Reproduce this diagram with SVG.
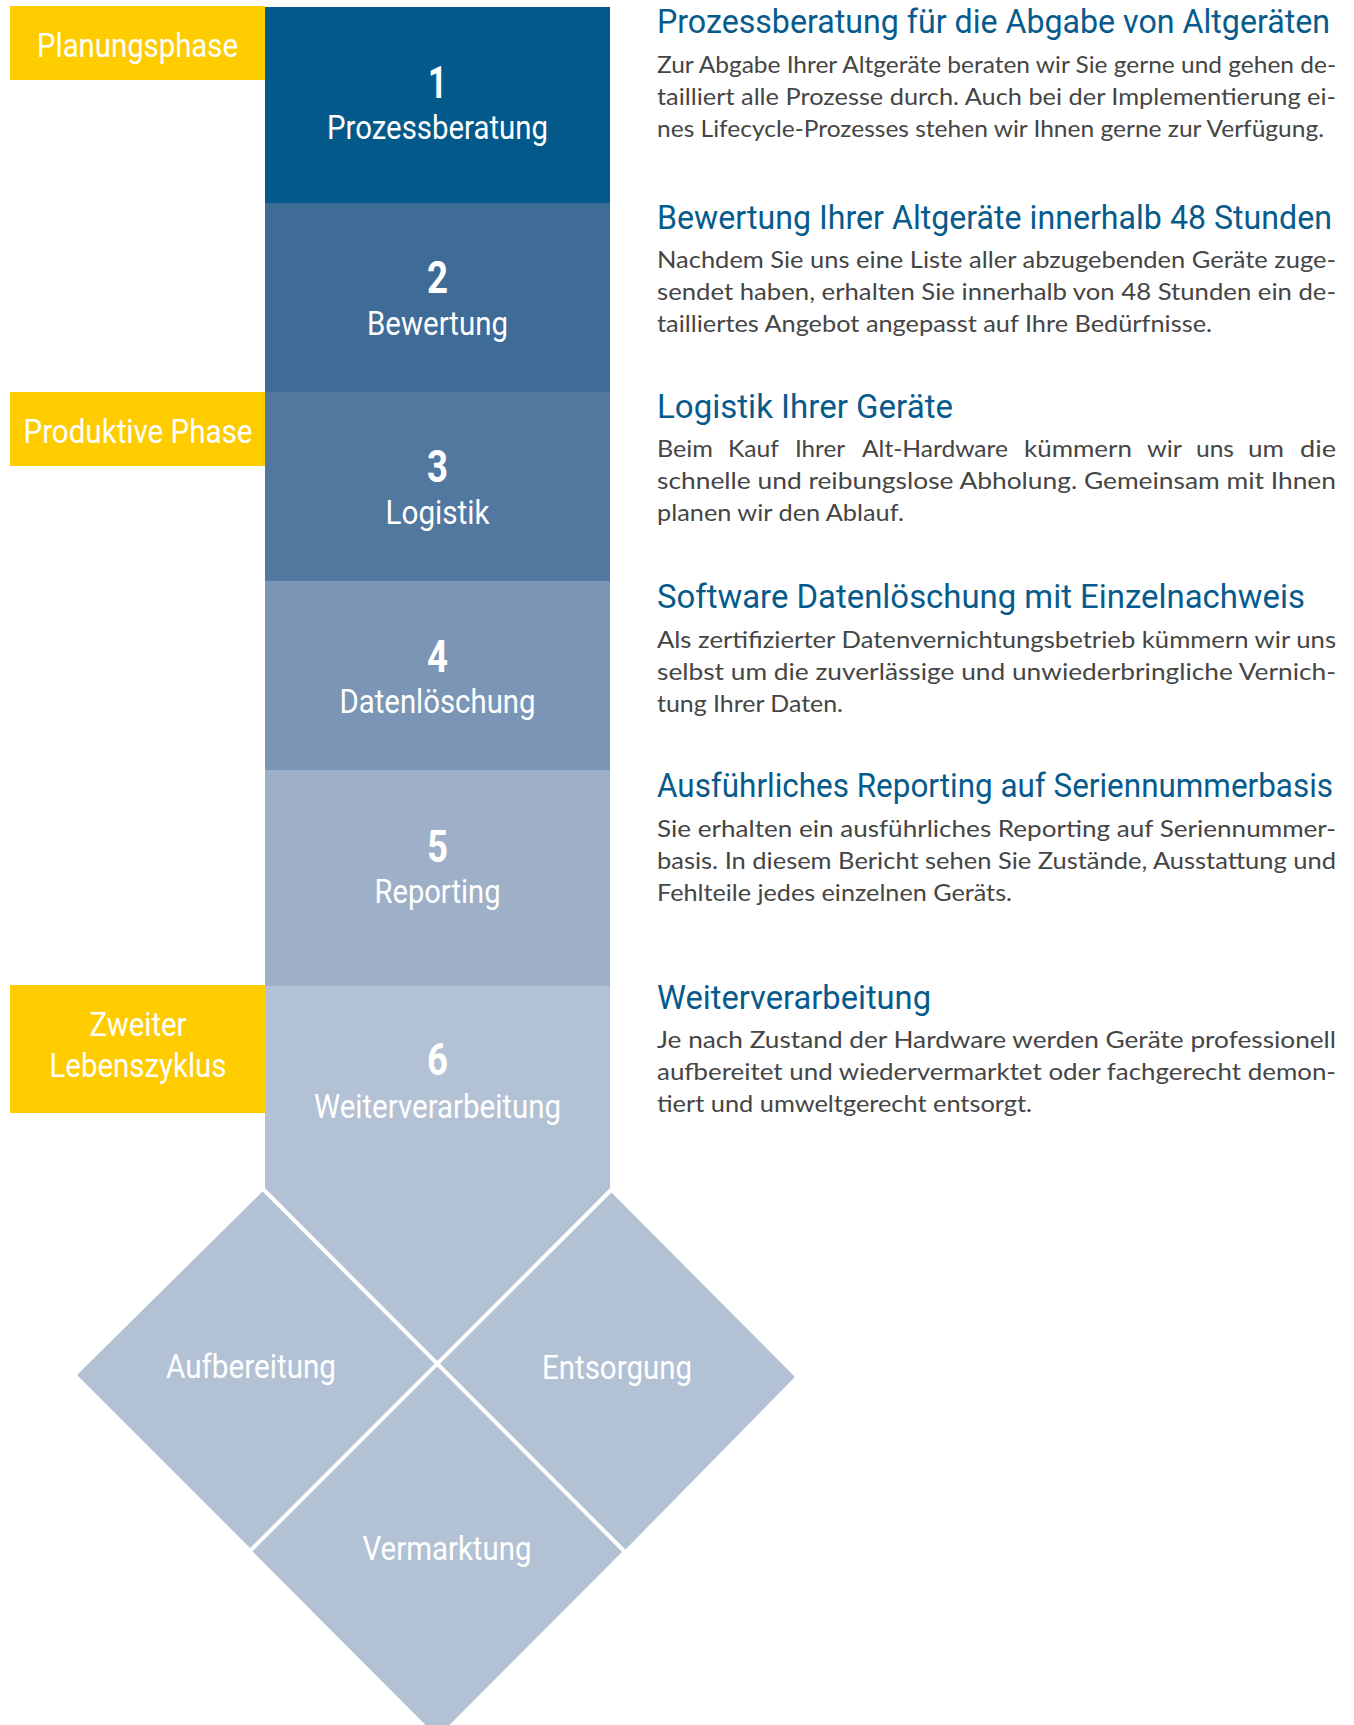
<svg xmlns="http://www.w3.org/2000/svg" width="1354" height="1725" viewBox="0 0 1354 1725">
<style>
.lbl{font-family:Roboto,"Liberation Sans",sans-serif;font-size:33px;fill:#fff;text-anchor:middle}
.num{font-family:Roboto,"Liberation Sans",sans-serif;font-size:44px;font-weight:700;fill:#fff;text-anchor:middle}
.ttl{font-family:Roboto,"Liberation Sans",sans-serif;font-size:33px;fill:#075b8c}
.body{font-family:Lato,"Noto Sans",sans-serif;font-size:24px;fill:#454545}
.yel{fill:#ffcc00}
.d{fill:#b3c1d5}
</style>
<rect width="1354" height="1725" fill="#fff"/>

<g id="phase-planung">
<rect class="yel" x="10" y="6" width="255" height="74"/>
<text class="lbl" x="137.5" y="57" textLength="201" lengthAdjust="spacingAndGlyphs">Planungsphase</text>
</g>
<g id="phase-produktiv">
<rect class="yel" x="10" y="392" width="255" height="74"/>
<text class="lbl" x="138" y="443" textLength="229" lengthAdjust="spacingAndGlyphs">Produktive Phase</text>
</g>
<g id="phase-zweiter">
<rect class="yel" x="10" y="985" width="255" height="128"/>
<text class="lbl" x="138" y="1036" textLength="97" lengthAdjust="spacingAndGlyphs">Zweiter</text>
<text class="lbl" x="138" y="1077" textLength="177" lengthAdjust="spacingAndGlyphs">Lebenszyklus</text>
</g>

<g id="step1">
<rect x="265" y="7" width="345" height="196" fill="#03598a"/>
<text class="num" x="437.5" y="98" textLength="19" lengthAdjust="spacingAndGlyphs">1</text>
<text class="lbl" x="437.5" y="139" textLength="221" lengthAdjust="spacingAndGlyphs">Prozessberatung</text>
</g>
<g id="step2">
<rect x="265" y="203" width="345" height="189" fill="#3f6c96"/>
<text class="num" x="437.5" y="293" textLength="21" lengthAdjust="spacingAndGlyphs">2</text>
<text class="lbl" x="437.5" y="335" textLength="141" lengthAdjust="spacingAndGlyphs">Bewertung</text>
</g>
<g id="step3">
<rect x="265" y="392" width="345" height="189" fill="#53789f"/>
<text class="num" x="437.5" y="482" textLength="21" lengthAdjust="spacingAndGlyphs">3</text>
<text class="lbl" x="437.5" y="524" textLength="104" lengthAdjust="spacingAndGlyphs">Logistik</text>
</g>
<g id="step4">
<rect x="265" y="581" width="345" height="189" fill="#7b95b6"/>
<text class="num" x="437.5" y="672" textLength="21" lengthAdjust="spacingAndGlyphs">4</text>
<text class="lbl" x="437.5" y="713" textLength="196" lengthAdjust="spacingAndGlyphs">Datenlöschung</text>
</g>
<g id="step5">
<rect x="265" y="770" width="345" height="216" fill="#9eafc8"/>
<text class="num" x="437.5" y="862" textLength="21" lengthAdjust="spacingAndGlyphs">5</text>
<text class="lbl" x="437.5" y="903" textLength="126" lengthAdjust="spacingAndGlyphs">Reporting</text>
</g>
<g id="step6">
<path class="d" d="M265,986 H610 V1191 L437.5,1364 L265,1191 Z"/>
<text class="num" x="437.5" y="1075" textLength="21" lengthAdjust="spacingAndGlyphs">6</text>
<text class="lbl" x="437.5" y="1118" textLength="247" lengthAdjust="spacingAndGlyphs">Weiterverarbeitung</text>
</g>

<g id="aufbereitung">
<path class="d" d="M263,1191 L437.5,1364 L251,1549 L77,1375 Z"/>
<text class="lbl" x="251" y="1378" textLength="170" lengthAdjust="spacingAndGlyphs">Aufbereitung</text>
</g>
<g id="entsorgung">
<path class="d" d="M610,1191 L795,1377 L624,1551 L437.5,1364 Z"/>
<text class="lbl" x="617" y="1379" textLength="150" lengthAdjust="spacingAndGlyphs">Entsorgung</text>
</g>
<g id="vermarktung">
<path class="d" d="M437.5,1364 L623,1551 L437.5,1737 L251,1550 Z"/>
<text class="lbl" x="447" y="1560" textLength="169" lengthAdjust="spacingAndGlyphs">Vermarktung</text>
</g>

<g id="connectors" stroke="#fff" stroke-width="4" fill="none">
<line x1="264" y1="1190" x2="627" y2="1554"/>
<line x1="611" y1="1190" x2="249" y2="1552"/>
</g>

<g id="text-1">
<text class="ttl" x="657" y="33" textLength="673" lengthAdjust="spacingAndGlyphs">Prozessberatung für die Abgabe von Altgeräten</text>
<text class="body" x="657" y="73" textLength="679" lengthAdjust="spacingAndGlyphs">Zur Abgabe Ihrer Altgeräte beraten wir Sie gerne und gehen de-</text>
<text class="body" x="657" y="105" textLength="679" lengthAdjust="spacingAndGlyphs">tailliert alle Prozesse durch. Auch bei der Implementierung ei-</text>
<text class="body" x="657" y="137" textLength="667" lengthAdjust="spacingAndGlyphs">nes Lifecycle-Prozesses stehen wir Ihnen gerne zur Verfügung.</text>
</g>
<g id="text-2">
<text class="ttl" x="657" y="229" textLength="675" lengthAdjust="spacingAndGlyphs">Bewertung Ihrer Altgeräte innerhalb 48 Stunden</text>
<text class="body" x="657" y="268" textLength="679" lengthAdjust="spacingAndGlyphs">Nachdem Sie uns eine Liste aller abzugebenden Geräte zuge-</text>
<text class="body" x="657" y="300" textLength="679" lengthAdjust="spacingAndGlyphs">sendet haben, erhalten Sie innerhalb von 48 Stunden ein de-</text>
<text class="body" x="657" y="332" textLength="555" lengthAdjust="spacingAndGlyphs">tailliertes Angebot angepasst auf Ihre Bedürfnisse.</text>
</g>
<g id="text-3">
<text class="ttl" x="657" y="418" textLength="296" lengthAdjust="spacingAndGlyphs">Logistik Ihrer Geräte</text>
<text class="body" x="657" y="457" textLength="56" lengthAdjust="spacingAndGlyphs">Beim</text>
<text class="body" x="728" y="457" textLength="51" lengthAdjust="spacingAndGlyphs">Kauf</text>
<text class="body" x="795" y="457" textLength="50" lengthAdjust="spacingAndGlyphs">Ihrer</text>
<text class="body" x="862" y="457" textLength="146" lengthAdjust="spacingAndGlyphs">Alt-Hardware</text>
<text class="body" x="1024" y="457" textLength="108" lengthAdjust="spacingAndGlyphs">kümmern</text>
<text class="body" x="1147" y="457" textLength="35" lengthAdjust="spacingAndGlyphs">wir</text>
<text class="body" x="1196" y="457" textLength="38" lengthAdjust="spacingAndGlyphs">uns</text>
<text class="body" x="1248" y="457" textLength="36" lengthAdjust="spacingAndGlyphs">um</text>
<text class="body" x="1300" y="457" textLength="36" lengthAdjust="spacingAndGlyphs">die</text>
<text class="body" x="657" y="489" textLength="679" lengthAdjust="spacingAndGlyphs">schnelle und reibungslose Abholung. Gemeinsam mit Ihnen</text>
<text class="body" x="657" y="521" textLength="247" lengthAdjust="spacingAndGlyphs">planen wir den Ablauf.</text>
</g>
<g id="text-4">
<text class="ttl" x="657" y="608" textLength="648" lengthAdjust="spacingAndGlyphs">Software Datenlöschung mit Einzelnachweis</text>
<text class="body" x="657" y="648" textLength="679" lengthAdjust="spacingAndGlyphs">Als zertifizierter Datenvernichtungsbetrieb kümmern wir uns</text>
<text class="body" x="657" y="680" textLength="679" lengthAdjust="spacingAndGlyphs">selbst um die zuverlässige und unwiederbringliche Vernich-</text>
<text class="body" x="657" y="712" textLength="186" lengthAdjust="spacingAndGlyphs">tung Ihrer Daten.</text>
</g>
<g id="text-5">
<text class="ttl" x="657" y="797" textLength="676" lengthAdjust="spacingAndGlyphs">Ausführliches Reporting auf Seriennummerbasis</text>
<text class="body" x="657" y="837" textLength="679" lengthAdjust="spacingAndGlyphs">Sie erhalten ein ausführliches Reporting auf Seriennummer-</text>
<text class="body" x="657" y="869" textLength="679" lengthAdjust="spacingAndGlyphs">basis. In diesem Bericht sehen Sie Zustände, Ausstattung und</text>
<text class="body" x="657" y="901" textLength="355" lengthAdjust="spacingAndGlyphs">Fehlteile jedes einzelnen Geräts.</text>
</g>
<g id="text-6">
<text class="ttl" x="657" y="1009" textLength="274" lengthAdjust="spacingAndGlyphs">Weiterverarbeitung</text>
<text class="body" x="657" y="1048" textLength="679" lengthAdjust="spacingAndGlyphs">Je nach Zustand der Hardware werden Geräte professionell</text>
<text class="body" x="657" y="1080" textLength="679" lengthAdjust="spacingAndGlyphs">aufbereitet und wiedervermarktet oder fachgerecht demon-</text>
<text class="body" x="657" y="1112" textLength="375" lengthAdjust="spacingAndGlyphs">tiert und umweltgerecht entsorgt.</text>
</g>
</svg>
